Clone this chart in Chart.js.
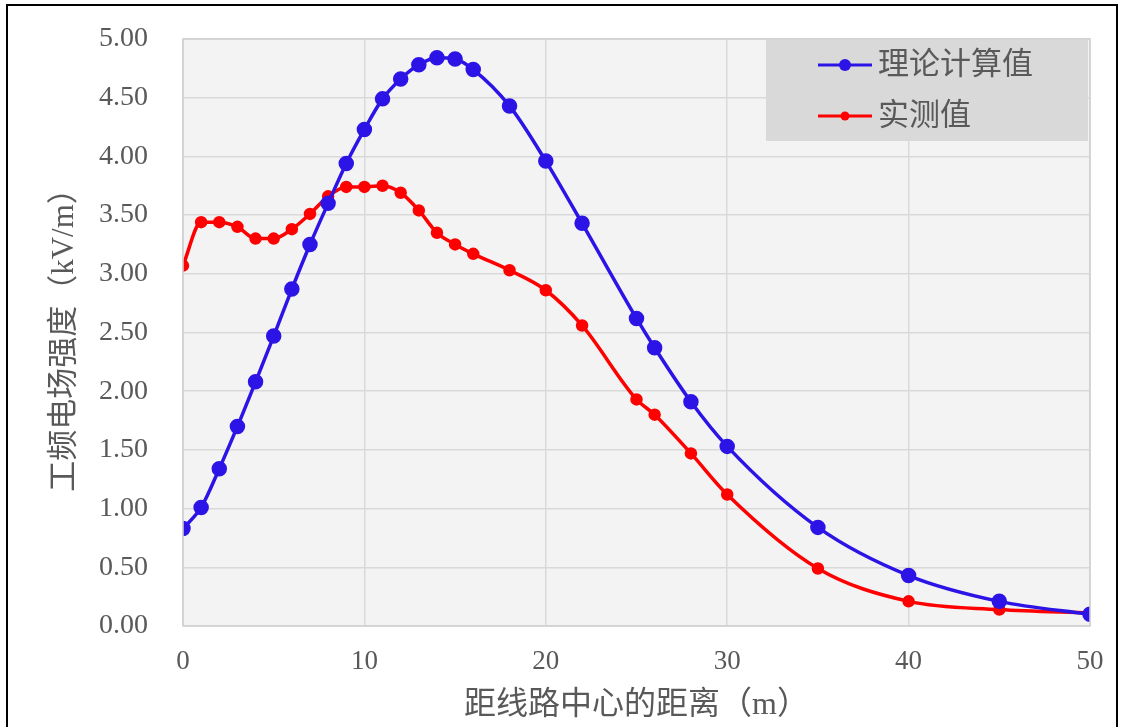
<!DOCTYPE html>
<html>
<head>
<meta charset="utf-8">
<script src="https://cdn.jsdelivr.net/npm/chart.js@4/dist/chart.umd.min.js"></script>
<style>
  html, body { margin: 0; padding: 0; background: #ffffff; }
  #wrap { position: relative; width: 1123px; height: 727px; overflow: hidden; }
  #frame { position: absolute; left: 6px; top: 4px; width: 1112px; height: 740px; border: 2px solid #000; box-sizing: border-box; pointer-events: none; }
  canvas { position: absolute; left: 0; top: 0; }
</style>
</head>
<body>
<div id="wrap">
  <canvas id="c" width="1123" height="727"></canvas>
  <div id="frame"></div>
</div>
<script>
// ---- data ----
const distances = [0, 1, 2, 3, 4, 5, 6, 7, 8, 9, 10, 11, 12, 13, 14, 15, 16, 18, 20, 22, 25, 26, 28, 30, 35, 40, 45, 50];
const theoretical = [0.83, 1.01, 1.34, 1.70, 2.08, 2.47, 2.87, 3.25, 3.60, 3.94, 4.23, 4.49, 4.66, 4.78, 4.84, 4.83, 4.74, 4.43, 3.96, 3.43, 2.62, 2.37, 1.91, 1.53, 0.84, 0.43, 0.21, 0.10];
const measured = [3.07, 3.44, 3.44, 3.40, 3.30, 3.30, 3.38, 3.51, 3.66, 3.74, 3.74, 3.75, 3.69, 3.54, 3.35, 3.25, 3.17, 3.03, 2.86, 2.56, 1.93, 1.80, 1.47, 1.12, 0.49, 0.21, 0.14, 0.11];
const seriesNames = ['理论计算值', '实测值'];
const xTitle = '距线路中心的距离（m）';
const yTitle = '工频电场强度（kV/m）';
const xTicks = [0, 10, 20, 30, 40, 50];
const yTicks = [0, 0.5, 1, 1.5, 2, 2.5, 3, 3.5, 4, 4.5, 5];

const toXY = (xs, ys) => xs.map((x, i) => ({ x: x, y: ys[i] }));

const SERIF = "'Liberation Serif', 'Noto Sans CJK SC', serif";
const TXT = '#595959';

const bgPlugin = {
  id: 'plotBg',
  beforeDraw(chart) {
    const a = chart.chartArea, ctx = chart.ctx;
    ctx.save();
    ctx.fillStyle = '#f3f3f3';
    ctx.fillRect(a.left, a.top, a.right - a.left, a.bottom - a.top);
    ctx.restore();
  },
  afterDatasetsDraw(chart) {
    const a = chart.chartArea, ctx = chart.ctx;
    ctx.save();
    ctx.strokeStyle = '#d0d0d0';
    ctx.lineWidth = 1.5;
    ctx.strokeRect(a.left, a.top, a.right - a.left, a.bottom - a.top);
    ctx.restore();
  }
};

const legendPlugin = {
  id: 'boxLegend',
  afterDraw(chart) {
    const ctx = chart.ctx;
    const bx = 766, by = 40, bw = 322, bh = 101;
    ctx.save();
    ctx.fillStyle = '#d9d9d9';
    ctx.fillRect(bx, by, bw, bh);
    chart.data.datasets.forEach((ds, i) => {
      const cy = 65 + i * 51;
      ctx.strokeStyle = ds.borderColor;
      ctx.lineWidth = 3;
      ctx.beginPath();
      ctx.moveTo(818, cy);
      ctx.lineTo(872, cy);
      ctx.stroke();
      ctx.fillStyle = ds.pointBackgroundColor;
      ctx.beginPath();
      ctx.arc(845, cy, ds.pointRadius, 0, Math.PI * 2);
      ctx.fill();
      ctx.fillStyle = TXT;
      ctx.font = "31px " + SERIF;
      ctx.textBaseline = 'middle';
      ctx.textAlign = 'left';
      ctx.fillText(ds.label, 878, cy + 1);
    });
    ctx.restore();
  }
};

new Chart(document.getElementById('c'), {
  type: 'line',
  data: {
    datasets: [
      {
        label: seriesNames[0],
        data: toXY(distances, theoretical),
        borderColor: '#2C14E6',
        backgroundColor: '#2C14E6',
        pointBackgroundColor: '#2C14E6',
        pointBorderColor: '#2C14E6',
        pointRadius: 6,
        borderWidth: 3.5,
        tension: 0.4,
        cubicInterpolationMode: 'monotone'
      },
      {
        label: seriesNames[1],
        data: toXY(distances, measured),
        borderColor: '#FF0000',
        backgroundColor: '#FF0000',
        pointBackgroundColor: '#FF0000',
        pointBorderColor: '#FF0000',
        pointRadius: 4.5,
        borderWidth: 3.5,
        tension: 0.4,
        cubicInterpolationMode: 'monotone'
      }
    ]
  },
  options: {
    responsive: false,
    animation: false,
    devicePixelRatio: 1,
    layout: { padding: { left: 0, top: 39, right: 33, bottom: 0 } },
    plugins: { legend: { display: false }, tooltip: { enabled: false } },
    scales: {
      x: {
        type: 'linear',
        min: 0, max: 50,
        afterFit(s) { s.height = 101; },
        afterBuildTicks(s) { s.ticks = xTicks.map(v => ({ value: v })); },
        grid: { color: '#d9d9d9', lineWidth: 1.5, drawTicks: true, tickLength: 20, tickColor: 'rgba(0,0,0,0)' },
        border: { display: false },
        ticks: { padding: 0, color: TXT, font: { family: SERIF, size: 27 }, maxRotation: 0 },
        title: { display: true, text: xTitle, color: TXT, font: { family: SERIF, size: 32 }, padding: { top: 0, bottom: 2 } }
      },
      y: {
        min: 0, max: 5,
        afterFit(s) { s.width = 183; },
        afterBuildTicks(s) { s.ticks = yTicks.map(v => ({ value: v })); },
        grid: { color: '#d9d9d9', lineWidth: 1.5, drawTicks: true, tickLength: 35, tickColor: 'rgba(0,0,0,0)' },
        border: { display: false },
        ticks: { padding: 0, color: TXT, font: { family: SERIF, size: 28 }, callback: v => Number(v).toFixed(2) },
        title: { display: true, text: yTitle, color: TXT, font: { family: SERIF, size: 31 }, padding: { top: 46, bottom: 0 } }
      }
    }
  },
  plugins: [bgPlugin, legendPlugin]
});
</script>
</body>
</html>
